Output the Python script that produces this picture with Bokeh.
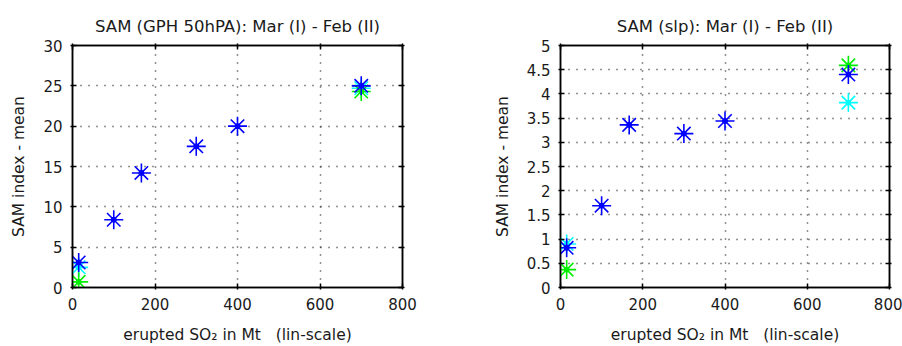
from bokeh.plotting import figure
from bokeh.layouts import row
from bokeh.models import Range1d, LinearAxis, FixedTicker, NumeralTickFormatter
from bokeh.embed import file_html
from bokeh.resources import INLINE

# Erupted SO2 (Mt) for each experiment
so2_mt = [15, 100, 167, 300, 400, 700]

# SAM index (GPH 50 hPa), Mar (I) - Feb (II)
gph_blue = [3.1, 8.4, 14.2, 17.5, 20.0, 25.0]
gph_cyan_x = [15, 700]
gph_cyan = [2.5, 24.7]
gph_green_x = [15, 700]
gph_green = [0.7, 24.3]

# SAM index (slp), Mar (I) - Feb (II)
slp_blue = [0.82, 1.69, 3.36, 3.18, 3.44, 4.40]
slp_cyan_x = [15, 700]
slp_cyan = [0.9, 3.82]
slp_green_x = [15, 700]
slp_green = [0.37, 4.59]

x_ticks = [0, 200, 400, 600, 800]
gph_ticks = [0, 5, 10, 15, 20, 25, 30]
slp_ticks = [0, 0.5, 1, 1.5, 2, 2.5, 3, 3.5, 4, 4.5, 5]

FONT = "DejaVu Sans"
TXT = "#1a1a1a"
X_LABEL = "erupted SO\u2082 in Mt \u00a0\u00a0(lin-scale)"
Y_LABEL = "SAM index - mean"


def style_axis(ax, ticks, show_labels=True):
    ax.ticker = FixedTicker(ticks=ticks)
    ax.axis_line_color = "black"
    ax.axis_line_width = 1.5
    ax.major_tick_line_color = "black"
    ax.major_tick_line_width = 1.5
    ax.major_tick_in = 4
    ax.major_tick_out = 2
    ax.minor_tick_line_color = None
    ax.major_label_text_font = FONT
    if show_labels:
        ax.major_label_text_color = TXT
        ax.major_label_text_font_size = "15px"
        ax.major_label_standoff = 8
    else:
        # tick marks only on the mirrored sides of the box
        ax.major_label_text_color = None
        ax.major_label_text_font_size = "1px"
        ax.major_label_standoff = 0


def make_panel(title, y_max, y_ticks, blue, cyan_x, cyan, green_x, green,
               width, borders, fmt=None):
    left, right, top, bottom = borders
    p = figure(width=width, height=346, output_backend="svg", toolbar_location=None,
               x_range=Range1d(0, 800), y_range=Range1d(0, y_max),
               min_border_left=left, min_border_right=right,
               min_border_top=top, min_border_bottom=bottom,
               title=title)
    p.title.align = "center"
    p.title.text_font = FONT
    p.title.text_font_size = "16.5px"
    p.title.text_font_style = "normal"
    p.title.text_color = TXT
    p.title.standoff = 16
    p.background_fill_color = "white"
    p.border_fill_color = "white"
    p.outline_line_color = "black"
    p.outline_line_width = 1.5

    style_axis(p.xaxis[0], x_ticks)
    style_axis(p.yaxis[0], y_ticks)
    if fmt is not None:
        p.yaxis[0].formatter = fmt
    p.xaxis[0].axis_label = X_LABEL
    p.yaxis[0].axis_label = Y_LABEL
    for ax in (p.xaxis[0], p.yaxis[0]):
        ax.axis_label_text_font = FONT
        ax.axis_label_text_font_size = "15.5px"
        ax.axis_label_text_font_style = "normal"
        ax.axis_label_text_color = TXT
    p.xaxis[0].axis_label_standoff = 13
    p.yaxis[0].axis_label_standoff = 12

    top_ax = LinearAxis()
    style_axis(top_ax, x_ticks, show_labels=False)
    p.add_layout(top_ax, "above")
    right_ax = LinearAxis()
    style_axis(right_ax, y_ticks, show_labels=False)
    p.add_layout(right_ax, "right")

    p.xgrid.ticker = FixedTicker(ticks=x_ticks[1:-1])
    p.ygrid.ticker = FixedTicker(ticks=y_ticks[1:-1])
    for g in (p.xgrid, p.ygrid):
        g.grid_line_color = "#222222"
        g.grid_line_width = 1.5
        g.grid_line_dash = "1 7"

    series = [
        (cyan_x, cyan, "#00ffff"),
        (green_x, green, "#00ee00"),
        (so2_mt, blue, "#0000ff"),
    ]
    for xs, ys, col in series:
        p.scatter(xs, ys, marker="asterisk", size=19, line_color=col, line_width=1.6)
        p.scatter(xs, ys, marker="circle", size=5, fill_color=col, line_color=col)
    return p


p1 = make_panel("SAM (GPH 50hPA): Mar (I) - Feb (II)", 30, gph_ticks, gph_blue,
                gph_cyan_x, gph_cyan, gph_green_x, gph_green,
                451, (72, 49, 44, 59))
p2 = make_panel("SAM (slp): Mar (I) - Feb (II)", 5, slp_ticks, slp_blue,
                slp_cyan_x, slp_cyan, slp_green_x, slp_green,
                451, (109, 13, 45, 57), fmt=NumeralTickFormatter(format="0.[0]"))

layout = row(p1, p2)
open("out.html", "w").write(file_html(layout, INLINE))
